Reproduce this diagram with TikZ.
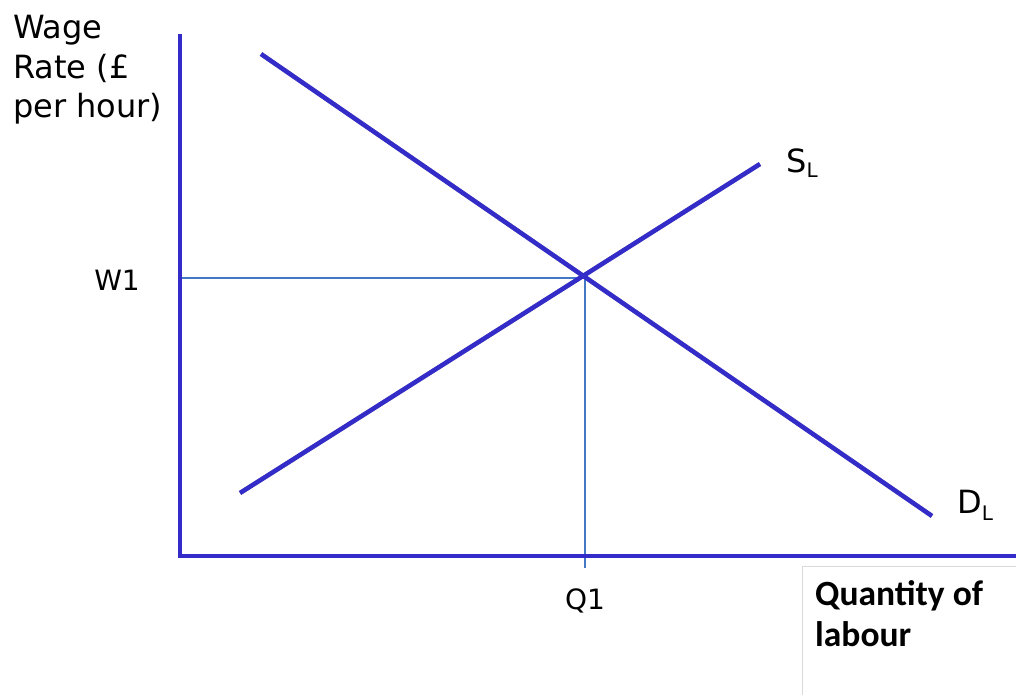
\documentclass[tikz,border=0pt]{standalone}
\usepackage{fontspec}
\setmainfont{DejaVu Sans}
\newfontfamily\carlito{Carlito}
\definecolor{mainblue}{RGB}{52,44,200}
\definecolor{thinblue}{RGB}{68,120,196}
\begin{document}
\begin{tikzpicture}[x=1pt,y=-1pt,
  curve/.style={mainblue,line width=4.5pt},
  shade/.style={black!60,line width=4.5pt,opacity=0.45},
  guide/.style={thinblue,line width=1.2pt},
  lbl/.style={inner sep=0pt,anchor=base west,font=\fontsize{32}{39.5}\selectfont},
  tick/.style={inner sep=0pt,anchor=base,font=\fontsize{28}{32}\selectfont},
  qstyle/.style={inner sep=0pt,anchor=base west,font=\carlito\bfseries\fontsize{35.5}{41}\selectfont}
]
\useasboundingbox (0,0) rectangle (1016,695);
% coordinates
\coordinate (ytop) at (180,34);
\coordinate (O) at (180,556);
\coordinate (xend) at (1020,556);
\coordinate (d1) at (261,54);
\coordinate (d2) at (932,516);
\coordinate (s1) at (240,493);
\coordinate (s2) at (760,164);
\coordinate (E) at (585,278);
\coordinate (w) at (180,278);
\coordinate (q) at (585,568);
% shadows
\begin{scope}[xshift=1.5pt,yshift=-2pt]
  \draw[shade] (ytop) -- (O) -- (xend);
  \draw[shade] (d1) -- (d2);
  \draw[shade] (s1) -- (s2);
\end{scope}
% guide lines
\draw[guide] (w) -- (E) -- (q);
% axes and curves
\draw[curve] (ytop) -- (O) -- (xend);
\draw[curve] (d1) -- (d2);
\draw[curve] (s1) -- (s2);
% labels
\node[lbl] (wage1) at (13,39) {Wage};
\node[lbl] (wage2) at (13,79) {Rate (£};
\node[lbl] (wage3) at (13,118) {per hour)};
\node[tick] (w1) at (117,290) {W1};
\node[tick] (q1) at (585,609) {Q1};
\node[lbl] (sl) at (786,172) {S\raisebox{-5pt}{\fontsize{20}{20}\selectfont L}};
\node[lbl] (dl) at (957,513) {D\raisebox{-7pt}{\fontsize{20}{20}\selectfont L}};
% quantity box
\draw[draw=black!15,fill=white,line width=1pt] (802,566) rectangle (1030,710);
\node[qstyle] (qty) at (815,605) {Quantity of};
\node[qstyle] (lab) at (815,646) {labour};
\end{tikzpicture}
\end{document}
